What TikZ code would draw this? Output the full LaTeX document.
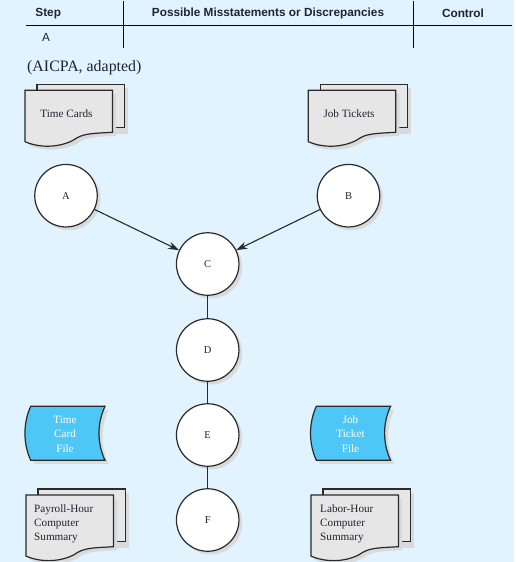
\documentclass[tikz,border=0pt]{standalone}
\usepackage{fontspec}
\setmainfont{Liberation Serif}
\setsansfont{Liberation Sans}
\usetikzlibrary{arrows.meta}
\definecolor{bgc}{HTML}{E0F3FE}
\definecolor{shad}{HTML}{D8DADB}
\definecolor{docc}{HTML}{E6E6E6}
\definecolor{filec}{HTML}{4FC7F6}
\definecolor{edgec}{HTML}{2A2A2A}
\definecolor{inkc}{HTML}{222233}
\tikzset{x=1pt,y=-1pt,
 rulel/.style={line width=1pt,black},
 head/.style={font=\sffamily\bfseries\fontsize{11.8}{14}\selectfont,text=inkc,inner sep=0pt},
 lab/.style={font=\fontsize{11.2}{14}\selectfont,text=inkc,inner sep=0pt,align=left},
 circ/.style={circle,draw=edgec,line width=1.2pt,fill=white,minimum size=62.5pt,inner sep=0pt,font=\fontsize{10.5}{12}\selectfont,text=inkc},
 conn/.style={line width=1.1pt,edgec},
 arr/.style={conn,-{Stealth[length=11pt,width=7.5pt]}},
 outl/.style={draw=edgec,line width=1.2pt},
 flab/.style={font=\fontsize{11.2}{14.5}\selectfont,text=white,inner sep=0pt,align=center}}
\newcommand{\stackdoc}[3]{%
 \begin{scope}[shift={(#1,#2)}]
  \fill[shad] (15.5,-2.5) rectangle (103,#3+1.5);
  \filldraw[fill=docc,outl] (12,-6) rectangle (99.5,#3-5);
  \fill[shad,shift={(3.5,3.5)}] (0,0) -- (87.5,0) -- (87.5,#3) .. controls (70,#3+1) and (60,#3+1) .. (52,#3+5.5) .. controls (42,#3+13) and (20,#3+18) .. (0,#3+9.4) -- cycle;
  \filldraw[fill=docc,outl] (0,0) -- (87.5,0) -- (87.5,#3) .. controls (70,#3+1) and (60,#3+1) .. (52,#3+5.5) .. controls (42,#3+13) and (20,#3+18) .. (0,#3+9.4) -- cycle;
 \end{scope}}
\newcommand{\filesym}[2]{%
 \begin{scope}[shift={(#1,#2)}]
  \fill[shad,shift={(3.5,3.5)}] (5.7,0) -- (80,0) .. controls (72,17) and (72,37) .. (80,54) -- (5.7,54) .. controls (-2,37) and (-2,17) .. (5.7,0) -- cycle;
  \filldraw[fill=filec,outl] (5.7,0) -- (80,0) .. controls (72,17) and (72,37) .. (80,54) -- (5.7,54) .. controls (-2,37) and (-2,17) .. (5.7,0) -- cycle;
 \end{scope}}
\newcommand{\circshadow}[2]{\fill[shad] (#1+3,#2+3) circle[radius=31.5];}
\begin{document}
\begin{tikzpicture}
\useasboundingbox (0,0) rectangle (514,562);
\fill[bgc] (0,0) rectangle (514,562);
% table
\coordinate (tl) at (26,25); \coordinate (tr) at (512,25);
\coordinate (v1a) at (123.5,1); \coordinate (v1b) at (123.5,48);
\coordinate (v2a) at (413.5,1); \coordinate (v2b) at (413.5,48);
\draw[rulel] (tl) -- (tr);
\draw[rulel] (v1a) -- (v1b);
\draw[rulel] (v2a) -- (v2b);
\node[head] (hstep) at (48.2,13.5) {Step};
\node[head] (hmis) at (268,13.5) {Possible Misstatements or Discrepancies};
\node[head] (hctl) at (463,13.5) {Control};
\node[font=\sffamily\fontsize{11.8}{14}\selectfont,text=inkc,inner sep=0pt] (ra) at (46,37) {A};
\node[font=\fontsize{15.9}{18}\selectfont,text=inkc,inner sep=0pt,anchor=west] (src) at (27,68) {(AICPA, adapted)};
% documents
\stackdoc{25}{90.3}{42}
\stackdoc{308.3}{90.3}{42}
\stackdoc{26}{495}{51.7}
\stackdoc{311}{495}{51.7}
\node[lab] (tc) at (66.5,114) {Time Cards};
\node[lab] (jt) at (349,114) {Job Tickets};
\node[lab,anchor=west] (ph) at (34,524) {Payroll-Hour\\Computer\\Summary};
\node[lab,anchor=west] (lh) at (320,524) {Labor-Hour\\Computer\\Summary};
% files
\filesym{25}{406.3}
\filesym{310.6}{406.3}
\node[flab] (tf) at (65,434) {Time\\Card\\File};
\node[flab] (jf) at (350.5,434) {Job\\Ticket\\File};
% circles
\circshadow{66}{195.7}
\circshadow{348.5}{195.7}
\circshadow{207.7}{264}
\circshadow{207.7}{350}
\circshadow{207.7}{435}
\circshadow{207.7}{520}
\node[circ] (A) at (66,195.7) {A};
\node[circ] (B) at (348.5,195.7) {B};
\node[circ] (C) at (207.7,264) {C};
\node[circ] (D) at (207.7,350) {D};
\node[circ] (E) at (207.7,435) {E};
\node[circ] (F) at (207.7,520) {F};
\draw[arr] (A) -- (C);
\draw[arr] (B) -- (C);
\draw[conn] (C) -- (D);
\draw[conn] (D) -- (E);
\draw[conn] (E) -- (F);
\end{tikzpicture}
\end{document}
